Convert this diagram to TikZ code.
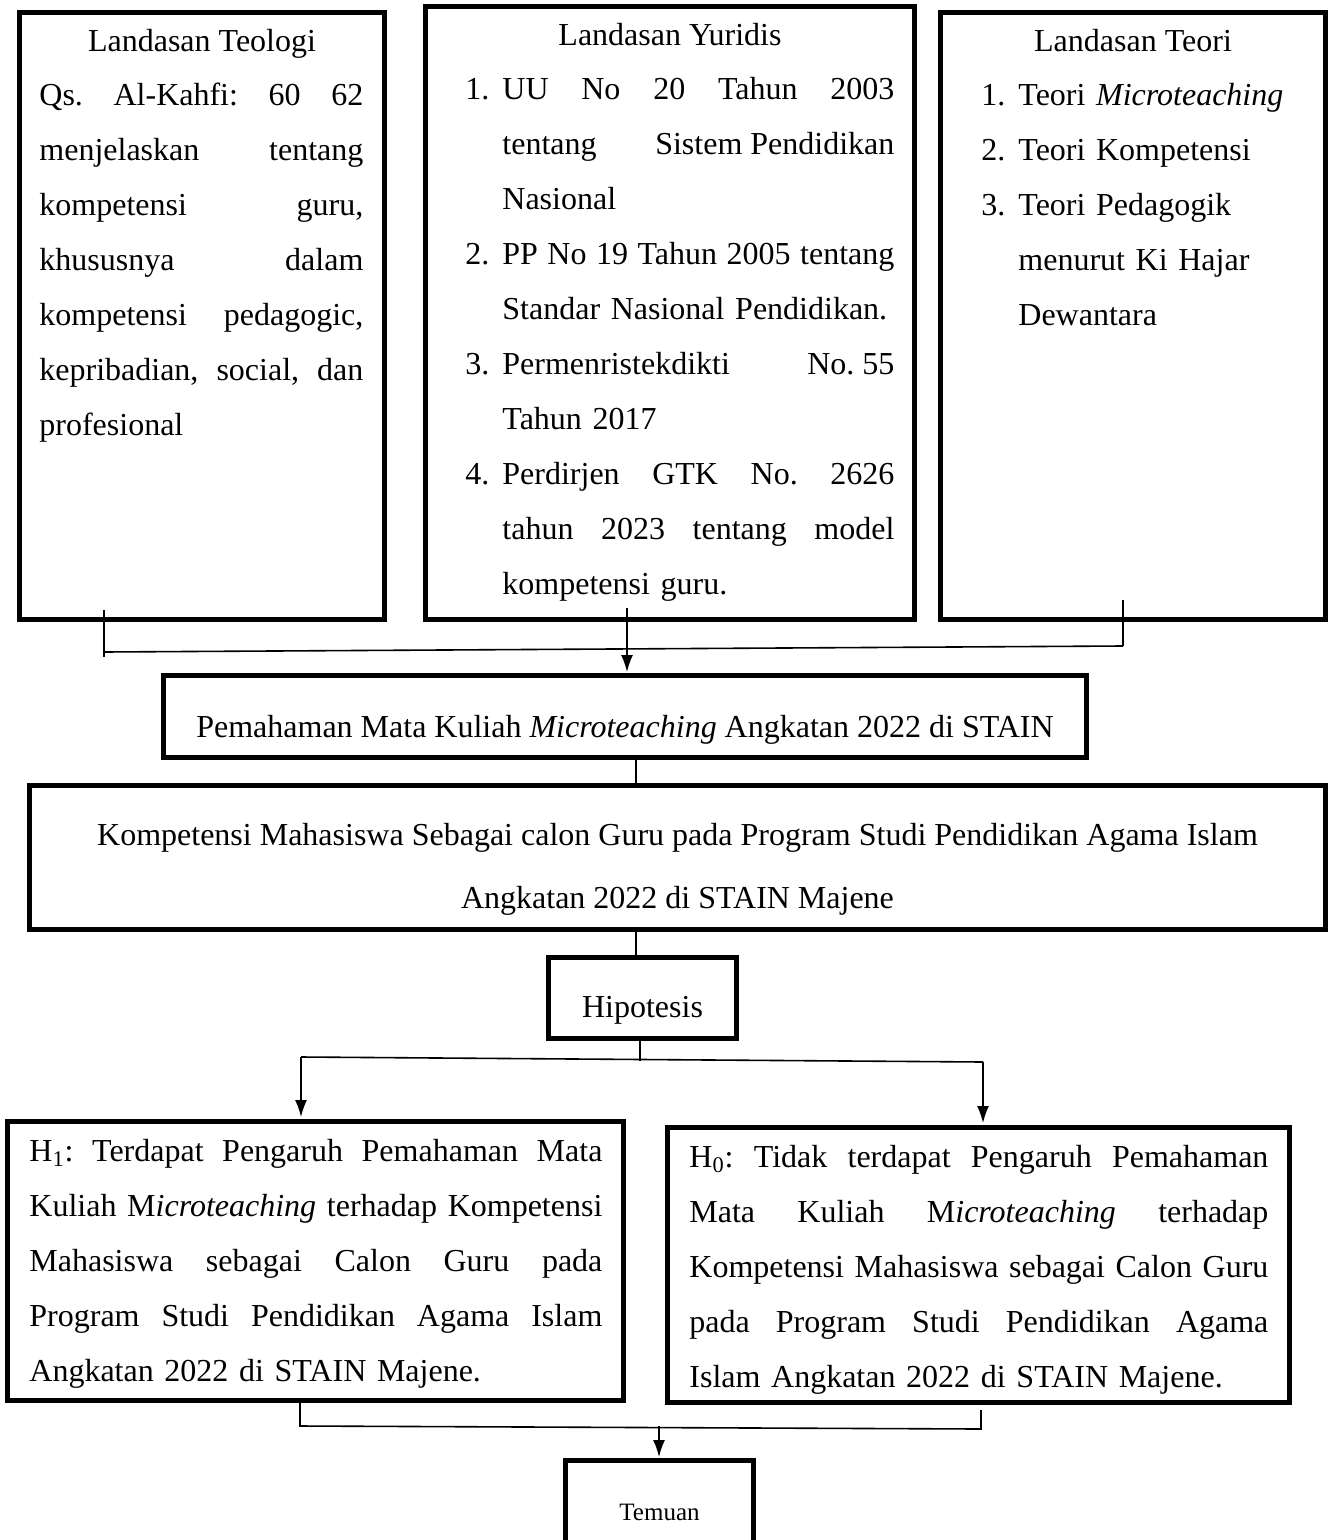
\documentclass[tikz,border=0pt]{standalone}
\usepackage{fontspec}
\setmainfont{Liberation Serif}
\usetikzlibrary{arrows.meta}
\newcommand{\jl}[2]{\makebox[#1][s]{\frenchspacing\spaceskip=0pt\relax\xspaceskip=0pt\relax #2}}
\newcommand{\numl}[1]{\leavevmode\llap{#1.\hspace{6.5pt}}}
\begin{document}
\begin{tikzpicture}[x=0.5pt,y=-0.5pt,
  box/.style={draw, line width=2.5pt, inner sep=0pt, fill=none},
  conn/.style={line width=0.8pt},
  arr/.style={line width=0.8pt, -{Latex[length=8.5pt,width=6pt]}},
  txt/.style={inner sep=0pt, font=\fontsize{16}{27.5}\selectfont, align=left},
  ctxt/.style={inner sep=0pt, font=\fontsize{16}{27.5}\selectfont, align=center},
]
\useasboundingbox (0,0) rectangle (1336,1540);

% ---------- boxes ----------
\node[box, minimum width=182.5pt, minimum height=303.5pt] (b1) at (202,316) {};
\node[box, minimum width=244.5pt, minimum height=306.5pt] (b2) at (670,313) {};
\node[box, minimum width=192.5pt, minimum height=303.5pt] (b3) at (1133,316) {};
\node[box, minimum width=461.5pt, minimum height=41pt] (b4) at (625,716.5) {};
\node[box, minimum width=648pt, minimum height=72pt] (b5) at (677.5,857.5) {};
\node[box, minimum width=94pt, minimum height=40.5pt] (b6) at (642.5,998) {};
\node[box, minimum width=308pt, minimum height=139.5pt] (b7) at (315.5,1261) {};
\node[box, minimum width=311pt, minimum height=137.5pt] (b8) at (978.5,1265) {};
\node[box, minimum width=94pt, minimum height=50pt] (b9) at (659.5,1510) {};

% ---------- box 1 ----------
\node[ctxt, anchor=base] (t1) at (202,52) {Landasan Teologi};
\node[txt, anchor=base west, text width=162pt] (p1) at (39,106) {%
\jl{162pt}{Qs. Al-Kahfi: 60 62}\\
\jl{162pt}{menjelaskan tentang}\\
\jl{162pt}{kompetensi guru,}\\
\jl{162pt}{khususnya dalam}\\
\jl{162pt}{kompetensi pedagogic,}\\
\jl{162pt}{kepribadian, social, dan}\\
profesional};

% ---------- box 2 ----------
\node[ctxt, anchor=base] (t2) at (670,46) {Landasan Yuridis};
\node[txt, anchor=base west, text width=196pt] (p2) at (502,100) {%
\numl{1}\jl{196pt}{UU No 20 Tahun 2003}\\
\jl{196pt}{tentang\hfill Sistem Pendidikan}\\
Nasional\\
\numl{2}\jl{196pt}{PP No 19 Tahun 2005 tentang}\\
Standar Nasional Pendidikan.\\
\numl{3}\jl{196pt}{Permenristekdikti\hfill No.~55}\\
Tahun 2017\\
\numl{4}\jl{196pt}{Perdirjen GTK No. 2626}\\
\jl{196pt}{tahun 2023 tentang model}\\
kompetensi guru.};

% ---------- box 3 ----------
\node[ctxt, anchor=base] (t3) at (1133,52) {Landasan Teori};
\node[txt, anchor=base west, text width=150pt] (p3) at (1018,106) {%
\numl{1}Teori \textit{Microteaching}\\
\numl{2}Teori Kompetensi\\
\numl{3}Teori Pedagogik\\
menurut Ki Hajar\\
Dewantara};

% ---------- middle boxes ----------
\node[ctxt, anchor=base] (t4) at (625,737) {Pemahaman Mata Kuliah \textit{Microteaching} Angkatan 2022 di STAIN};
\node[ctxt, anchor=base, font=\fontsize{16}{31.5}\selectfont] (t5) at (677.5,908) {Kompetensi Mahasiswa Sebagai calon Guru pada Program Studi Pendidikan Agama Islam\\ Angkatan 2022 di STAIN Majene};
\node[ctxt, anchor=base] (t6) at (642.5,1017) {Hipotesis};

% ---------- hypotheses ----------
\node[txt, anchor=base west, text width=286.5pt] (p7) at (29,1161) {%
\jl{286.5pt}{H\textsubscript{1}: Terdapat Pengaruh Pemahaman Mata}\\
\jl{286.5pt}{Kuliah M\textit{icroteaching} terhadap Kompetensi}\\
\jl{286.5pt}{Mahasiswa sebagai Calon Guru pada}\\
\jl{286.5pt}{Program Studi Pendidikan Agama Islam}\\
Angkatan 2022 di STAIN Majene.};
\node[txt, anchor=base west, text width=289.5pt] (p8) at (689,1167) {%
\jl{289.5pt}{H\textsubscript{0}: Tidak terdapat Pengaruh Pemahaman}\\
\jl{289.5pt}{Mata Kuliah M\textit{icroteaching} terhadap}\\
\jl{289.5pt}{Kompetensi Mahasiswa sebagai Calon Guru}\\
\jl{289.5pt}{pada Program Studi Pendidikan Agama}\\
Islam Angkatan 2022 di STAIN Majene.};

\node[ctxt, anchor=base, font=\fontsize{12.5}{15}\selectfont] (t9) at (659.5,1520) {Temuan};

% ---------- connectors ----------
\coordinate (la) at (104,610);
\coordinate (lb) at (104,657);
\coordinate (hl) at (104,652);
\coordinate (hr) at (1123,646);
\coordinate (ra) at (1123,600);
\coordinate (ma) at (627,608);
\coordinate (mb) at (627,672);
\draw[conn] (la) -- (lb);
\draw[conn] (hl) -- (hr);
\draw[conn] (ra) -- (hr);
\draw[arr] (ma) -- (mb);

\coordinate (c45a) at (636,760);
\coordinate (c45b) at (636,783);
\draw[conn] (c45a) -- (c45b);
\coordinate (c56a) at (636,932);
\coordinate (c56b) at (636,955);
\draw[conn] (c56a) -- (c56b);

\coordinate (h6a) at (640,1041);
\coordinate (h6b) at (640,1061);
\coordinate (hL) at (301,1057);
\coordinate (hR) at (983,1062);
\coordinate (hLt) at (301,1117);
\coordinate (hRt) at (983,1123);
\draw[conn] (h6a) -- (h6b);
\draw[conn] (hL) -- (hR);
\draw[arr] (hL) -- (hLt);
\draw[arr] (hR) -- (hRt);

\coordinate (bLa) at (300,1403);
\coordinate (bLb) at (300,1426);
\coordinate (bRb) at (981,1429);
\coordinate (bRa) at (981,1410);
\coordinate (bMa) at (659,1426);
\coordinate (bMb) at (659,1457);
\draw[conn] (bLa) -- (bLb) -- (bRb) -- (bRa);
\draw[arr] (bMa) -- (bMb);
\end{tikzpicture}
\end{document}
